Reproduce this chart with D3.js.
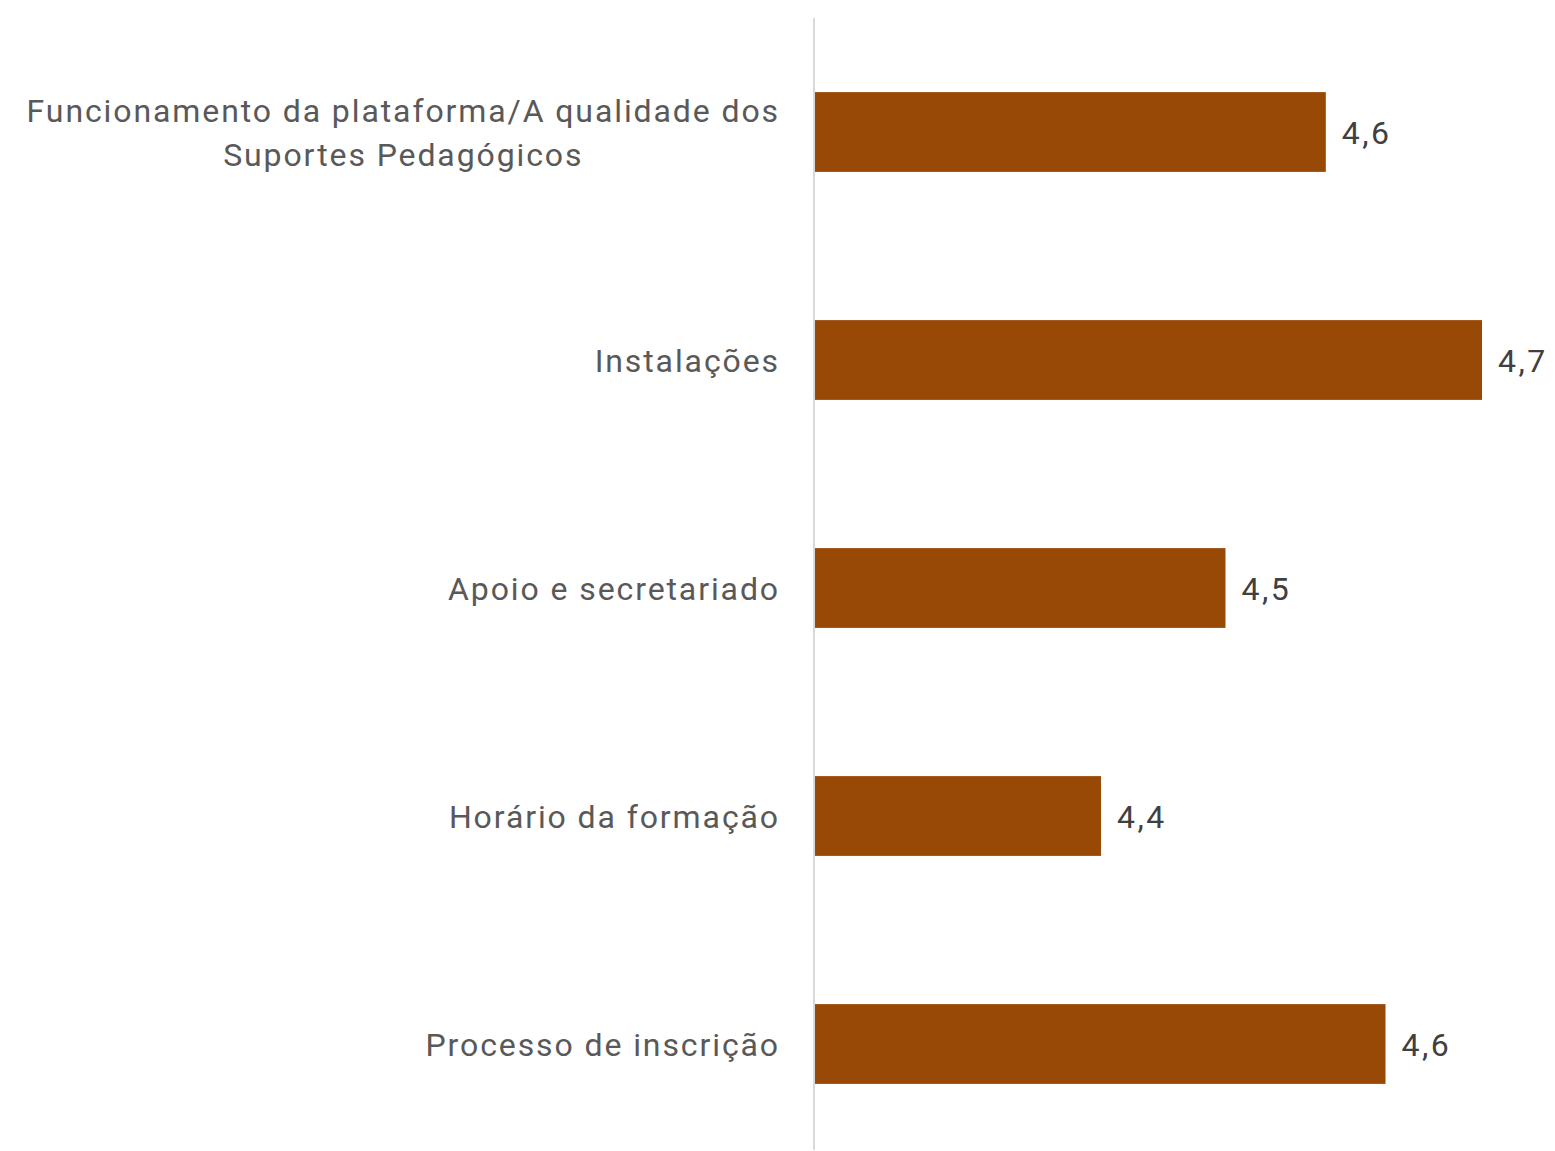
<!DOCTYPE html>
<html>
<head>
<meta charset="utf-8">
<script src="https://cdn.jsdelivr.net/npm/d3@7"></script>
<style>
  body { margin: 0; background: #fff; }
  svg text { font-family: Roboto, "Noto Sans", sans-serif; }
</style>
</head>
<body>
<svg id="chart" width="1555" height="1151"></svg>
<script>
// categorias (de cima para baixo)
const categories = [
    ["Funcionamento da plataforma/A qualidade dos", "Suportes Pedagógicos"],
    ["Instalações"],
    ["Apoio e secretariado"],
    ["Horário da formação"],
    ["Processo de inscrição"]
];
// médias
const values = [4.577, 4.700, 4.498, 4.400, 4.624];
const xMin = 4.174;

const svg = d3.select("#chart");
const axisX = 814;
const pxPerUnit = 1270;
const labelX = 780; // compensa o letter-spacing final

const x = d3.scaleLinear()
    .domain([xMin, d3.max(values)])
    .range([axisX, axisX + pxPerUnit * (d3.max(values) - xMin)]);

const y = d3.scaleBand()
    .domain(d3.range(categories.length))
    .range([18, 1158])
    .paddingInner(0.65)
    .paddingOuter(0.325);

// barras
svg.append("g").selectAll("rect")
    .data(values)
    .join("rect")
    .attr("x", x(xMin))
    .attr("y", (d, i) => y(i))
    .attr("width", d => x(d) - x(xMin))
    .attr("height", y.bandwidth())
    .attr("fill", "#994906");

// eixo vertical
svg.append("line")
    .attr("x1", axisX).attr("x2", axisX)
    .attr("y1", 18).attr("y2", 1150)
    .attr("stroke", "#d9d9d9")
    .attr("stroke-width", 2);

// rótulos de valor
svg.append("g").selectAll("text")
    .data(values)
    .join("text")
    .attr("x", d => x(d) + 16)
    .attr("y", (d, i) => y(i) + y.bandwidth() / 2)
    .attr("dy", "0.38em")
    .attr("font-size", 32)
    .attr("letter-spacing", 2.5)
    .attr("fill", "#404040")
    .text(d => d.toFixed(1).replace(".", ","));

// rótulos das categorias
const lineH = 44;
const labels = svg.append("g").selectAll("text")
    .data(categories)
    .join("text")
    .attr("text-anchor", "end")
    .attr("font-size", 32)
    .attr("letter-spacing", 1.9)
    .attr("fill", "#595959")
    .each(function(lines, i) {
        const cy = y(i) + y.bandwidth() / 2;
        const top = cy - (lines.length - 1) * lineH / 2;
        d3.select(this).selectAll("tspan")
            .data(lines)
            .join("tspan")
            .attr("x", labelX)
            .attr("y", (l, j) => top + j * lineH)
            .attr("dy", "0.38em")
            .text(l => l);
    });

// linhas múltiplas centradas entre si, alinhadas à direita em bloco
labels.each(function(lines) {
    if (lines.length < 2) return;
    const spans = d3.select(this).selectAll("tspan").nodes();
    const widths = spans.map(s => s.getComputedTextLength());
    const maxW = d3.max(widths);
    spans.forEach((s, j) => d3.select(s).attr("x", labelX - (maxW - widths[j]) / 2));
});
</script>
</body>
</html>
